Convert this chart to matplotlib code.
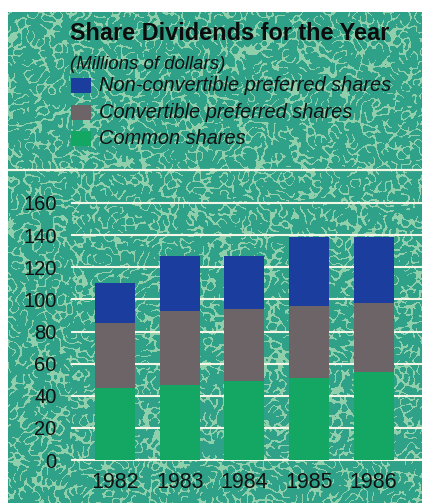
import numpy as np
import matplotlib
matplotlib.use("Agg")
import matplotlib.pyplot as plt
from matplotlib.patches import Rectangle

# Dividend data (millions of dollars)
years = ["1982", "1983", "1984", "1985", "1986"]
common = [45, 47, 49, 51, 55]
convertible = [40, 46, 45, 45, 43]
non_convertible = [25, 34, 33, 43, 41]
y_ticks = [0, 20, 40, 60, 80, 100, 120, 140, 160]

series_names = ["Non-convertible preferred shares",
                "Convertible preferred shares",
                "Common shares"]

C_BLUE = "#1b3d9e"
C_GRAY = "#6d6467"
C_GREEN = "#13a763"
C_TEAL = "#2fa288"
C_SQUIGGLE = "#8fcfac"
C_GRID = "#f3f6e4"

W, H = 422, 503
fig = plt.figure(figsize=(W / 100, H / 100), dpi=100)
fig.patch.set_facecolor("white")

plt.rcParams["font.family"] = ["Liberation Sans", "DejaVu Sans"]


def px_axes(x0, y0, x1, y1, **kw):
    """Axes placed by pixel box (top-left origin)."""
    return fig.add_axes([x0 / W, 1 - y1 / H, (x1 - x0) / W, (y1 - y0) / H], **kw)


def bandpass(shape, f0, bw, rng):
    n = rng.standard_normal(shape)
    fy = np.fft.fftfreq(shape[0])[:, None]
    fx = np.fft.fftfreq(shape[1])[None, :]
    r = np.sqrt(fx ** 2 + fy ** 2)
    band = np.exp(-((r - f0) ** 2) / (2 * bw ** 2))
    f = np.real(np.fft.ifft2(np.fft.fft2(n) * band))
    return f / f.std()


# Textured teal panel: short pale worms on teal
bg = px_axes(8, 12, W, H)
bg.set_axis_off()
ph, pw = H - 12, W - 8
rng = np.random.default_rng(11)
worms = bandpass((ph, pw), 0.085, 0.022, rng)
breaks = bandpass((ph, pw), 0.05, 0.02, rng)
mask = (np.abs(worms) < 0.45) & (breaks > -0.5)
base = np.array(matplotlib.colors.to_rgb(C_TEAL))
light = np.array(matplotlib.colors.to_rgb(C_SQUIGGLE))
img = np.where(mask[..., None], light, base)
bg.imshow(img, extent=[0, 1, 0, 1], aspect="auto", interpolation="bilinear")
bg.set_xlim(0, 1)
bg.set_ylim(0, 1)

# Overlay axes in pixel coordinates for titles and legend
ov = px_axes(0, 0, W, H)
ov.set_xlim(0, W)
ov.set_ylim(H, 0)
ov.set_axis_off()
ov.patch.set_alpha(0)

ov.plot([8, W], [170, 170], color=C_GRID, lw=1.6, solid_capstyle="butt")

ov.text(70, 40, "Share Dividends for the Year", fontsize=16.9,
        fontweight="bold", color="#0c0c0c", va="baseline", ha="left")
ov.text(70, 69, "(Millions of dollars)", fontsize=13.4, style="italic",
        color="#111111", va="baseline", ha="left")

legend_rows = [85, 112.5, 138.5]
legend_colors = [C_BLUE, C_GRAY, C_GREEN]
for yc, name, col in zip(legend_rows, series_names, legend_colors):
    ov.add_patch(Rectangle((71, yc - 7.5), 20, 15, facecolor=col, edgecolor="none"))
    ov.text(99, yc, name, fontsize=14.4, style="italic", color="#111111",
            va="center", ha="left")

# Chart axes: y 0..160 spans pixel rows 460..203
ax = px_axes(72, 203, W, 460)
ax.patch.set_alpha(0)
x = np.arange(len(years))
ax.set_xlim(-0.67, len(years) - 1 + 0.75)
ax.set_ylim(0, 160)

for t in y_ticks:
    ax.axhline(t, color=C_GRID, lw=1.5, zorder=1, clip_on=False)

bar_w = 0.62
ax.bar(x, common, width=bar_w, color=C_GREEN, zorder=2)
ax.bar(x, convertible, width=bar_w, bottom=common, color=C_GRAY, zorder=2)
bottom3 = [a + b for a, b in zip(common, convertible)]
ax.bar(x, non_convertible, width=bar_w, bottom=bottom3, color=C_BLUE, zorder=2)

for s in ax.spines.values():
    s.set_visible(False)
ax.set_yticks(y_ticks)
ax.set_yticklabels([str(t) for t in y_ticks], fontsize=14.5, color="#111111")
ax.tick_params(axis="y", length=0, pad=11)
ax.set_xticks(x)
ax.set_xticklabels(years, fontsize=15.5, color="#111111")
ax.tick_params(axis="x", length=0, pad=9)

fig.savefig("out.png", dpi=100)
